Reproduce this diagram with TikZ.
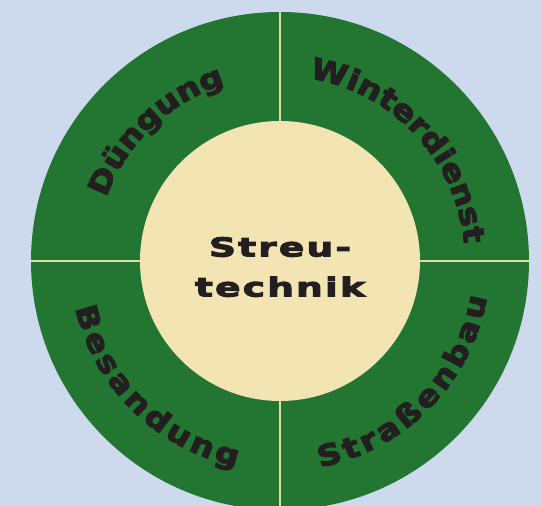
\documentclass[tikz,border=0pt]{standalone}
\usepackage{fontspec}
\usepackage{tikz}
\usetikzlibrary{decorations.text}
\definecolor{sky}{HTML}{CDD9EC}
\definecolor{field}{HTML}{237631}
\definecolor{sand}{HTML}{F2E5B3}
\definecolor{seam}{HTML}{DCE0A4}
\definecolor{ink}{HTML}{231F20}
\newfontfamily\wideface{DejaVu Sans Bold}[FakeStretch=1.45,FakeBold=4,LetterSpace=8]
\newfontfamily\ringface{DejaVu Sans Bold}[FakeStretch=1.15,FakeBold=4]
\newcommand{\ringlabel}[4] % {start angle}{end angle}{radius}{text}
{
	\path [decorate, decoration={text along path, text align={fit to path}, text color=ink,
		text={|\ringface\fontsize{29pt}{29pt}\selectfont|#4}}]
		(hub.center) ++(#1:#3) arc [start angle=#1, end angle=#2, radius=#3];
}

\begin{document}
\begin{tikzpicture}[x=1pt, y=1pt,
	disc/.style={circle, inner sep=0pt, minimum size=#1},
	seam line/.style={seam, line width=1.2pt}]
	\useasboundingbox (0,0) rectangle (542,506);
	\fill [sky] (0,0) rectangle (542,506);
	\clip (0,0) rectangle (542,506);

	\node [disc=498pt, fill=field] (ring) at (280,245) {};
	\draw [seam line] (ring.north) -- (ring.south);
	\draw [seam line] (ring.west) -- (ring.east);
	\node [disc=280pt, fill=sand] (hub) at (ring.center) {};
	\node [ink, align=center, font=\wideface\fontsize{26pt}{40pt}\selectfont] (title) at ([yshift=-6pt]hub.center) {Streu-\\technik};

	%upper half clockwise, lower half counterclockwise
	\ringlabel{160}{108.5}{185pt}{Düngung}
	\ringlabel{81}{7}{185pt}{Winterdienst}
	\ringlabel{193}{258}{210pt}{Besandung}
	\ringlabel{281}{350}{210pt}{Straßenbau}
\end{tikzpicture}
\end{document}
